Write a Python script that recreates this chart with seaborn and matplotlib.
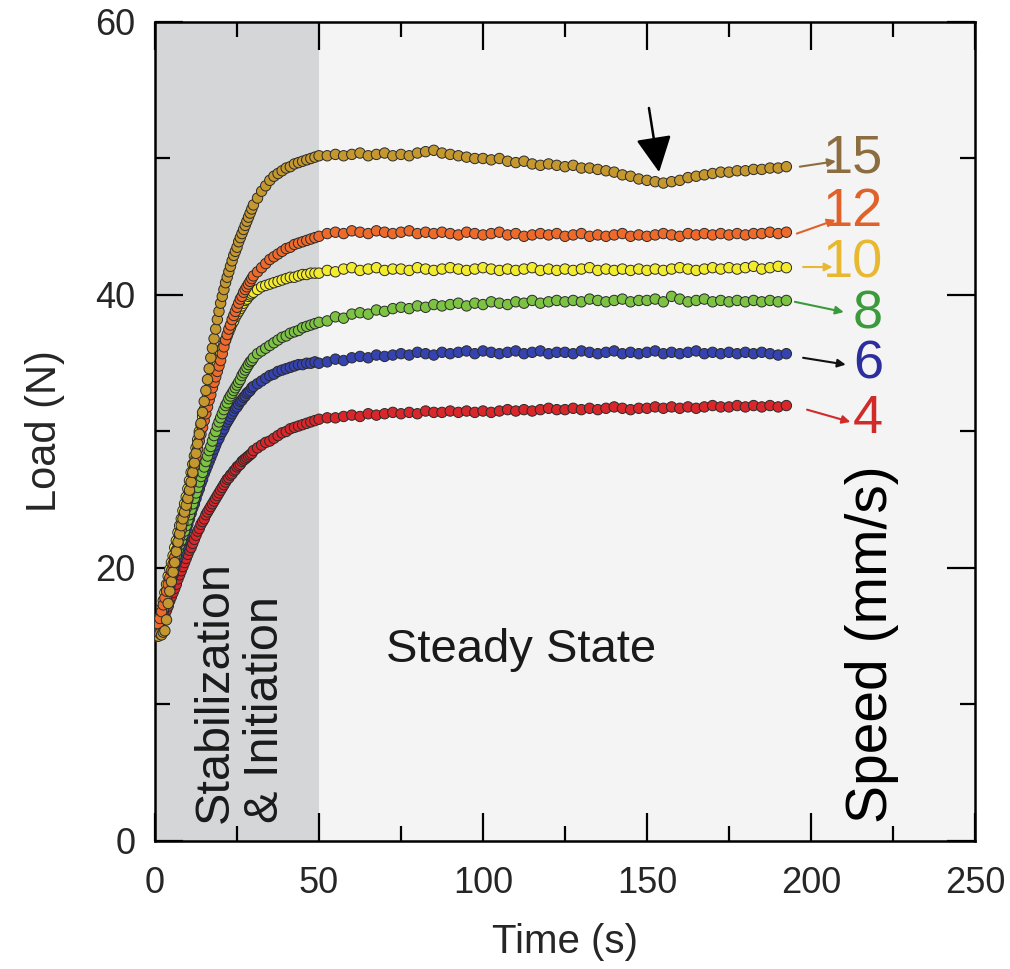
import numpy as np
import pandas as pd
import matplotlib
matplotlib.use("Agg")
import matplotlib.pyplot as plt
import seaborn as sns

sns.set_theme(style="ticks")
plt.rcParams['font.family'] = ['Liberation Sans', 'DejaVu Sans']

# ---- data ----
# sample times: dense in the fast rise, coarser in the steady state
time_s = np.concatenate([np.arange(0, 30, 0.5),      # 60 values
                         np.arange(30, 50, 1.25),    # 16 values
                         np.arange(50, 195, 2.5)])   # 58 values

load_15 = [15.0, 15.1, 15.0, 15.2, 15.1, 15.3, 15.4, 16.2, 17.4, 18.3,
           19.0, 19.7, 20.4, 21.2, 21.9, 22.5, 23.1, 23.6, 24.1, 24.6,
           25.1, 25.7, 26.3, 27.0, 27.7, 28.4, 29.1, 29.8, 30.6, 31.4,
           32.2, 33.0, 33.8, 34.6, 35.4, 36.1, 36.8, 37.5, 38.2, 38.8,
           39.4, 39.9, 40.4, 40.9, 41.3, 41.7, 42.1, 42.5, 42.9, 43.2,
           43.5, 43.9, 44.2, 44.5, 44.8, 45.1, 45.4, 45.7, 46.0, 46.3,
           46.6, 47.1, 47.6, 48.0, 48.4, 48.7, 48.9, 49.1,
           49.3, 49.4, 49.6, 49.7, 49.8, 49.9, 50.0, 50.1,
           50.2, 50.2, 50.3, 50.2, 50.3, 50.4, 50.2, 50.3, 50.4, 50.2,
           50.3, 50.2, 50.4, 50.5, 50.6, 50.4, 50.3, 50.2, 50.1, 50.0,
           50.0, 49.9, 50.0, 49.8, 49.7, 49.8, 49.6, 49.5, 49.6, 49.5,
           49.4, 49.5, 49.3, 49.3, 49.2, 49.1, 49.0, 48.8, 48.7, 48.5,
           48.4, 48.3, 48.2, 48.3, 48.4, 48.6, 48.7, 48.8, 48.9, 49.0,
           49.0, 49.1, 49.1, 49.2, 49.2, 49.3, 49.3, 49.4]
load_12 = [15.3, 15.6, 15.9, 16.3, 16.8, 17.3, 17.8, 18.3, 18.8, 19.3,
           19.8, 20.3, 20.8, 21.3, 21.8, 22.3, 22.8, 23.3, 23.9, 24.4,
           25.0, 25.6, 26.2, 26.9, 27.5, 28.1, 28.7, 29.3, 29.8, 30.3,
           30.8, 31.3, 31.8, 32.3, 32.7, 33.2, 33.6, 34.0, 34.4, 34.8,
           35.2, 35.7, 36.2, 36.7, 37.1, 37.5, 37.8, 38.2, 38.5, 38.8,
           39.1, 39.4, 39.7, 39.9, 40.2, 40.4, 40.6, 40.8, 41.0, 41.2,
           41.4, 41.7, 42.0, 42.3, 42.6, 42.8, 43.0, 43.2,
           43.4, 43.5, 43.7, 43.8, 43.9, 44.0, 44.1, 44.2,
           44.3, 44.5, 44.6, 44.5, 44.7, 44.6, 44.5, 44.7, 44.6, 44.5,
           44.6, 44.7, 44.5, 44.6, 44.5, 44.6, 44.5, 44.4, 44.6, 44.5,
           44.4, 44.5, 44.6, 44.4, 44.5, 44.3, 44.4, 44.5, 44.4, 44.5,
           44.3, 44.4, 44.5, 44.3, 44.4, 44.3, 44.4, 44.5, 44.3, 44.4,
           44.3, 44.4, 44.5, 44.4, 44.3, 44.5, 44.4, 44.5, 44.4, 44.5,
           44.4, 44.5, 44.4, 44.5, 44.5, 44.6, 44.5, 44.6]
load_10 = [15.0, 15.4, 15.9, 16.4, 17.0, 17.6, 18.2, 18.8, 19.4, 19.9,
           20.4, 20.9, 21.5, 22.0, 22.6, 23.1, 23.6, 24.2, 24.7, 25.2,
           25.8, 26.4, 27.0, 27.6, 28.2, 28.8, 29.4, 30.0, 30.5, 31.1,
           31.6, 32.1, 32.6, 33.1, 33.5, 33.9, 34.3, 34.7, 35.1, 35.4,
           35.8, 36.1, 36.4, 36.7, 37.0, 37.3, 37.6, 37.9, 38.1, 38.4,
           38.6, 38.8, 39.0, 39.2, 39.4, 39.6, 39.7, 39.9, 40.0, 40.1,
           40.2, 40.4, 40.6, 40.7, 40.8, 40.9, 41.0, 41.1,
           41.2, 41.3, 41.3, 41.4, 41.5, 41.5, 41.6, 41.6,
           41.6, 41.8, 41.7, 41.9, 42.0, 41.8, 41.9, 42.0, 41.8, 41.9,
           41.9, 41.8, 42.0, 41.9, 41.8, 41.9, 42.0, 41.9, 41.8, 41.9,
           42.0, 41.9, 41.8, 41.9, 41.8, 41.9, 42.0, 41.8, 41.9, 41.8,
           41.9, 41.8, 41.9, 42.0, 41.8, 41.9, 41.8, 41.9, 41.8, 41.9,
           41.8, 41.9, 41.8, 41.9, 42.0, 41.9, 41.8, 41.9, 42.0, 41.9,
           42.0, 41.9, 42.0, 42.1, 41.9, 42.0, 42.1, 42.0]
load_8 = [15.0, 15.3, 15.7, 16.1, 16.5, 17.0, 17.4, 17.9, 18.4, 18.9,
          19.4, 19.9, 20.4, 20.9, 21.3, 21.7, 22.0, 22.4, 22.7, 23.1,
          23.5, 23.9, 24.3, 24.7, 25.1, 25.5, 25.9, 26.3, 26.7, 27.0,
          27.4, 27.8, 28.2, 28.6, 28.9, 29.3, 29.7, 30.0, 30.4, 30.7,
          31.0, 31.3, 31.6, 31.9, 32.1, 32.4, 32.6, 32.8, 33.0, 33.2,
          33.4, 33.6, 33.8, 34.1, 34.3, 34.5, 34.7, 34.9, 35.1, 35.2,
          35.4, 35.7, 35.9, 36.1, 36.3, 36.5, 36.7, 36.9,
          37.0, 37.2, 37.3, 37.4, 37.6, 37.7, 37.8, 37.9,
          38.0, 38.1, 38.4, 38.3, 38.6, 38.7, 38.6, 38.9, 38.8, 39.0,
          39.1, 39.0, 39.2, 39.1, 39.3, 39.2, 39.3, 39.4, 39.2, 39.4,
          39.3, 39.5, 39.4, 39.3, 39.5, 39.4, 39.6, 39.4, 39.5, 39.6,
          39.5, 39.6, 39.5, 39.7, 39.6, 39.5, 39.6, 39.7, 39.5, 39.6,
          39.6, 39.7, 39.5, 39.9, 39.7, 39.5, 39.6, 39.7, 39.5, 39.6,
          39.5, 39.6, 39.5, 39.6, 39.5, 39.6, 39.5, 39.6]
load_6 = [15.0, 15.3, 15.6, 16.0, 16.4, 16.8, 17.3, 17.7, 18.2, 18.6,
          19.1, 19.5, 20.0, 20.4, 20.8, 21.2, 21.6, 22.0, 22.4, 22.8,
          23.2, 23.6, 24.0, 24.4, 24.7, 25.1, 25.5, 25.8, 26.2, 26.5,
          26.9, 27.2, 27.5, 27.8, 28.1, 28.4, 28.7, 29.0, 29.3, 29.5,
          29.8, 30.0, 30.2, 30.5, 30.7, 30.9, 31.1, 31.3, 31.5, 31.7,
          31.8, 32.0, 32.2, 32.3, 32.5, 32.6, 32.8, 32.9, 33.0, 33.2,
          33.3, 33.5, 33.7, 33.9, 34.1, 34.2, 34.4, 34.5,
          34.6, 34.7, 34.8, 34.9, 34.9, 35.0, 35.0, 35.1,
          35.0, 35.1, 35.3, 35.2, 35.4, 35.5, 35.4, 35.6, 35.5, 35.6,
          35.7, 35.6, 35.8, 35.7, 35.6, 35.8, 35.7, 35.8, 35.9, 35.7,
          35.9, 35.8, 35.7, 35.8, 35.9, 35.7, 35.8, 35.9, 35.7, 35.8,
          35.8, 35.7, 35.9, 35.8, 35.7, 35.8, 35.9, 35.7, 35.8, 35.7,
          35.8, 35.9, 35.7, 35.8, 35.7, 35.8, 35.9, 35.7, 35.8, 35.7,
          35.8, 35.7, 35.8, 35.7, 35.8, 35.7, 35.6, 35.7]
load_4 = [15.0, 15.2, 15.5, 15.7, 16.0, 16.3, 16.6, 16.9, 17.2, 17.6,
          17.9, 18.2, 18.5, 18.8, 19.2, 19.5, 19.8, 20.1, 20.4, 20.7,
          21.0, 21.3, 21.5, 21.8, 22.1, 22.4, 22.7, 22.9, 23.2, 23.4,
          23.6, 23.9, 24.1, 24.3, 24.5, 24.7, 24.9, 25.1, 25.3, 25.5,
          25.7, 25.9, 26.1, 26.3, 26.5, 26.6, 26.8, 26.9, 27.1, 27.2,
          27.4, 27.5, 27.6, 27.8, 27.9, 28.0, 28.1, 28.2, 28.3, 28.4,
          28.6, 28.8, 29.0, 29.2, 29.3, 29.5, 29.7, 29.9,
          30.0, 30.2, 30.3, 30.4, 30.5, 30.6, 30.7, 30.8,
          30.9, 31.0, 31.0, 31.1, 31.2, 31.1, 31.3, 31.2, 31.3, 31.4,
          31.3, 31.4, 31.3, 31.5, 31.4, 31.4, 31.5, 31.4, 31.5, 31.4,
          31.5, 31.4, 31.5, 31.6, 31.5, 31.6, 31.5, 31.6, 31.7, 31.6,
          31.6, 31.7, 31.6, 31.7, 31.6, 31.7, 31.8, 31.7, 31.6, 31.7,
          31.7, 31.8, 31.7, 31.8, 31.7, 31.8, 31.7, 31.8, 31.9, 31.8,
          31.8, 31.9, 31.8, 31.9, 31.8, 31.9, 31.8, 31.9]

speeds = ["4", "6", "8", "10", "12", "15"]
series = {"4": load_4, "6": load_6, "8": load_8,
          "10": load_10, "12": load_12, "15": load_15}
marker_colors = {"4": "#D9262A", "6": "#3443B0", "8": "#7CC243",
                 "10": "#F3EC2E", "12": "#EE6A2A", "15": "#C4972F"}
label_colors = {"4": "#D02A2A", "6": "#2B2E9C", "8": "#3C9A3C",
                "10": "#E8B830", "12": "#E0622A", "15": "#8C6D3F"}
arrow_colors = {"4": "#D02A2A", "6": "#111111", "8": "#3C9A3C",
                "10": "#E8B830", "12": "#E0622A", "15": "#8C6D3F"}

df = pd.concat([pd.DataFrame({"Time": time_s, "Load": series[s], "Speed": s})
                for s in speeds], ignore_index=True)

# ---- figure ----
fig = plt.figure(figsize=(10.1, 9.69), dpi=100)
ax = fig.add_axes([0.1535, 0.1321, 0.8118, 0.8452])
ax.set_facecolor("#F4F4F4")
ax.axvspan(0, 50, color="#D5D6D8", zorder=0, lw=0)

sns.scatterplot(data=df, x="Time", y="Load", hue="Speed", hue_order=speeds,
                palette=marker_colors, s=56, edgecolor="#2a2a2a",
                linewidth=0.7, legend=False, ax=ax, zorder=3)

ax.set_xlim(0, 250)
ax.set_ylim(0, 60)
ax.set_xticks([0, 50, 100, 150, 200, 250])
ax.set_xticks([25, 75, 125, 175, 225], minor=True)
ax.set_yticks([0, 20, 40, 60])
ax.set_yticks([10, 30, 50], minor=True)
ax.tick_params(which="both", direction="in", top=True, right=True,
               width=1.6, color="black", labelsize=26)
ax.tick_params(axis="x", which="major", pad=18)
ax.tick_params(axis="y", which="major", pad=14)
ax.tick_params(which="major", length=20)
ax.tick_params(which="minor", length=11)
for sp in ax.spines.values():
    sp.set_linewidth(1.8)
    sp.set_color("black")

ax.set_xlabel("Time (s)", fontsize=29, labelpad=16)
ax.set_ylabel("Load (N)", fontsize=30, labelpad=22)

# ---- annotations ----
label_pos = {"15": 50.0, "12": 46.1, "10": 42.3, "8": 38.6, "6": 34.9, "4": 30.9}
arrows = {"15": ((196.6, 49.4), (207.6, 49.8)),
          "12": ((195.7, 44.5), (207.5, 45.5)),
          "10": ((197.6, 42.05), (206.6, 42.05)),
          "8": ((195.1, 39.5), (210.0, 38.75)),
          "6": ((197.6, 35.4), (210.6, 34.9)),
          "4": ((198.8, 31.6), (212.0, 30.7))}
for s in speeds:
    ax.text(222.0, label_pos[s], s, color=label_colors[s], fontsize=39,
            ha="right", va="center", zorder=5)
    (x0, y0), (x1, y1) = arrows[s]
    ax.annotate("", xy=(x1, y1), xytext=(x0, y0),
                arrowprops=dict(arrowstyle="-|>", color=arrow_colors[s],
                                lw=1.5, mutation_scale=12, shrinkA=0, shrinkB=0),
                zorder=6)

ax.annotate("", xy=(153.7, 49.0), xytext=(150.6, 53.7),
            arrowprops=dict(arrowstyle="-|>,head_length=1.0,head_width=0.5",
                            color="black", lw=1.8, mutation_scale=22,
                            shrinkA=0, shrinkB=0), zorder=6)

ax.text(25.9, 1.3, "Stabilization\n& Initiation", rotation=90, fontsize=35,
        ha="center", va="bottom", multialignment="left", linespacing=1.15,
        color="#1a1a1a", zorder=4)
ax.text(111.6, 14.0, "Steady State", fontsize=34, ha="center", va="center",
        color="#1a1a1a", zorder=4)
ax.text(218.6, 1.3, "Speed (mm/s)", rotation=90, fontsize=41,
        ha="center", va="bottom", color="black", zorder=4)

fig.savefig("out.png", dpi=100, facecolor="white")
